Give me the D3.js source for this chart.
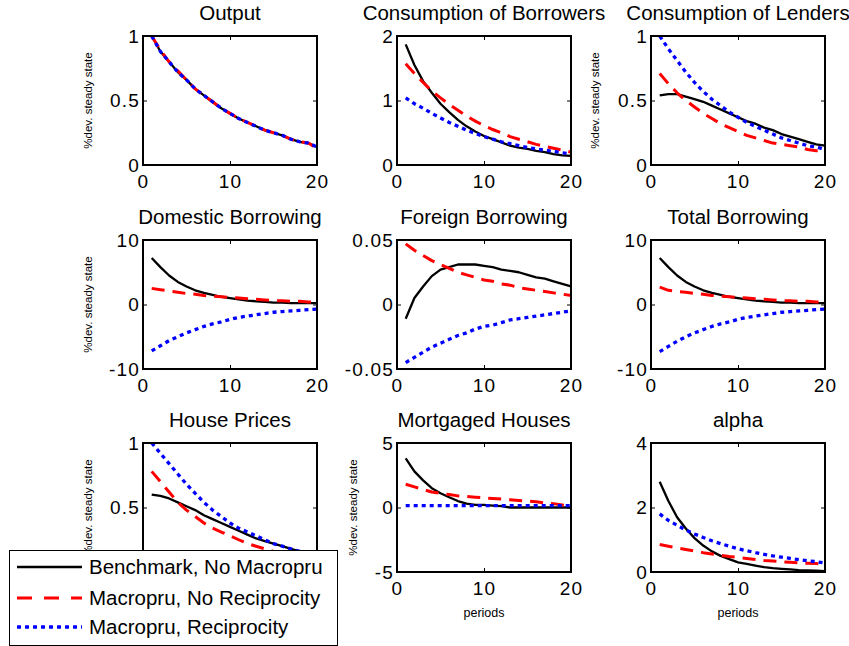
<!DOCTYPE html>
<html><head><meta charset="utf-8">
<script src="https://cdn.jsdelivr.net/npm/d3@7"></script>
<style>
body{margin:0;background:#fff;}
svg{display:block;font-family:"Liberation Sans",Arial,sans-serif;}
</style></head>
<body>
<svg id="chart" width="849" height="646"></svg>
<script>
// ---------- DATA ----------
const periods = [1,2,3,4,5,6,7,8,9,10,11,12,13,14,15,16,17,18,19,20];
const seriesNames = ["Benchmark, No Macropru","Macropru, No Reciprocity","Macropru, Reciprocity"];
const titles = ["Output","Consumption of Borrowers","Consumption of Lenders",
  "Domestic Borrowing","Foreign Borrowing","Total Borrowing",
  "House Prices","Mortgaged Houses","alpha"];
const xTicks = [0,10,20];
const yTicks = [[0,0.5,1],[0,1,2],[0,0.5,1],[-10,0,10],[-0.05,0,0.05],[-10,0,10],[0,0.5,1],[-5,0,5],[0,2,4]];
const yTickLabels = [["0","0.5","1"],["0","1","2"],["0","0.5","1"],["-10","0","10"],["-0.05","0","0.05"],["-10","0","10"],["0","0.5","1"],["-5","0","5"],["0","2","4"]];
const hasYLabel = [true,false,true,true,false,false,true,true,false];
const hasXLabel = [false,false,false,false,false,false,true,true,true];

// each: [benchmark, macropru no reciprocity, macropru reciprocity]
const outputVals = [
  [1.00,0.88,0.80,0.72,0.66,0.59,0.54,0.49,0.44,0.40,0.36,0.33,0.30,0.27,0.25,0.23,0.20,0.18,0.17,0.14],
  [1.00,0.89,0.80,0.73,0.66,0.59,0.54,0.49,0.44,0.40,0.36,0.33,0.30,0.27,0.25,0.23,0.20,0.18,0.17,0.13],
  [1.00,0.88,0.80,0.72,0.66,0.59,0.54,0.49,0.44,0.40,0.36,0.33,0.30,0.27,0.25,0.23,0.20,0.18,0.17,0.14]];
const consBorrowersVals = [
  [1.87,1.55,1.30,1.12,0.95,0.82,0.70,0.60,0.52,0.45,0.40,0.35,0.30,0.27,0.25,0.22,0.20,0.17,0.15,0.14],
  [1.57,1.42,1.28,1.15,1.04,0.94,0.85,0.76,0.68,0.61,0.55,0.50,0.44,0.40,0.36,0.32,0.29,0.26,0.23,0.20],
  [1.04,0.95,0.88,0.80,0.73,0.66,0.60,0.54,0.49,0.44,0.40,0.36,0.33,0.30,0.27,0.25,0.23,0.21,0.19,0.17]];
const consLendersVals = [
  [0.54,0.55,0.55,0.53,0.51,0.49,0.46,0.43,0.40,0.37,0.34,0.32,0.29,0.27,0.24,0.22,0.20,0.18,0.16,0.15],
  [0.71,0.63,0.56,0.50,0.45,0.40,0.36,0.32,0.29,0.26,0.23,0.21,0.19,0.17,0.16,0.15,0.14,0.12,0.11,0.11],
  [1.00,0.90,0.81,0.72,0.64,0.57,0.51,0.46,0.41,0.37,0.33,0.30,0.27,0.24,0.21,0.19,0.17,0.15,0.14,0.12]];
const domBorrowingVals = [
  [7.2,5.8,4.5,3.5,2.8,2.2,1.8,1.5,1.2,1.0,0.8,0.6,0.5,0.4,0.3,0.3,0.2,0.2,0.2,0.2],
  [2.5,2.3,2.1,1.9,1.7,1.6,1.4,1.3,1.2,1.1,1.0,0.9,0.8,0.7,0.6,0.6,0.5,0.5,0.4,0.4],
  [-7.2,-6.4,-5.6,-5.0,-4.4,-3.9,-3.4,-3.0,-2.7,-2.3,-2.0,-1.8,-1.6,-1.4,-1.2,-1.1,-1.0,-0.9,-0.8,-0.7]];
const forBorrowingVals = [
  [-0.011,0.005,0.014,0.022,0.027,0.029,0.031,0.031,0.031,0.030,0.029,0.027,0.026,0.025,0.023,0.021,0.020,0.018,0.016,0.014],
  [0.047,0.042,0.038,0.034,0.031,0.028,0.025,0.023,0.021,0.019,0.018,0.016,0.015,0.013,0.012,0.011,0.010,0.009,0.008,0.007],
  [-0.045,-0.041,-0.037,-0.033,-0.030,-0.027,-0.024,-0.022,-0.019,-0.017,-0.016,-0.014,-0.012,-0.011,-0.010,-0.009,-0.008,-0.007,-0.006,-0.005]];
const totBorrowingVals = [
  [7.2,5.8,4.5,3.5,2.8,2.2,1.8,1.5,1.2,1.0,0.8,0.6,0.5,0.4,0.3,0.3,0.2,0.2,0.2,0.2],
  [2.7,2.2,2.0,1.9,1.7,1.6,1.4,1.3,1.2,1.1,1.0,0.9,0.8,0.7,0.6,0.6,0.5,0.5,0.4,0.4],
  [-7.3,-6.5,-5.7,-5.0,-4.4,-3.9,-3.4,-3.0,-2.7,-2.3,-2.0,-1.8,-1.6,-1.4,-1.2,-1.1,-1.0,-0.9,-0.8,-0.7]];
const housePricesVals = [
  [0.60,0.59,0.57,0.54,0.51,0.48,0.44,0.41,0.38,0.35,0.32,0.29,0.26,0.24,0.22,0.20,0.18,0.16,0.14,0.12],
  [0.78,0.70,0.62,0.54,0.48,0.43,0.38,0.34,0.31,0.28,0.25,0.22,0.20,0.18,0.16,0.15,0.13,0.12,0.11,0.10],
  [1.00,0.92,0.84,0.76,0.68,0.61,0.54,0.48,0.43,0.38,0.34,0.31,0.28,0.25,0.22,0.20,0.18,0.16,0.14,0.12]];
const mortgagedVals = [
  [3.8,2.8,2.1,1.5,1.1,0.8,0.5,0.3,0.2,0.2,0.15,0.1,0.0,0.0,0.0,0.0,0.0,0.0,0.0,0.0],
  [1.8,1.6,1.4,1.2,1.1,1.0,0.9,0.85,0.8,0.75,0.7,0.65,0.6,0.55,0.5,0.45,0.35,0.3,0.2,0.1],
  [0.15,0.15,0.15,0.15,0.15,0.15,0.15,0.15,0.15,0.15,0.15,0.15,0.15,0.15,0.15,0.15,0.15,0.15,0.15,0.15]];
const alphaVals = [
  [2.8,2.2,1.7,1.35,1.05,0.82,0.64,0.50,0.40,0.30,0.25,0.20,0.15,0.12,0.10,0.08,0.06,0.05,0.04,0.03],
  [0.85,0.80,0.75,0.70,0.65,0.60,0.56,0.52,0.48,0.45,0.42,0.39,0.36,0.34,0.32,0.30,0.28,0.27,0.26,0.25],
  [1.80,1.60,1.45,1.30,1.18,1.07,0.97,0.88,0.80,0.72,0.66,0.60,0.55,0.50,0.46,0.42,0.38,0.35,0.32,0.28]];
const panelValues = [outputVals,consBorrowersVals,consLendersVals,domBorrowingVals,forBorrowingVals,totBorrowingVals,housePricesVals,mortgagedVals,alphaVals];

// ---------- STYLE / LAYOUT ----------
const colors = ["#000000","#ff0000","#0000ff"];
const dashes = [null,"13,8","4,4"];
const widths = [2.3,3,3.3];
const colLeft = [143,397,651], rowTop = [36,240,443];
const W = 174, H = 129;
const yLabelOffset = [55,55,56,55,55,55,55,44,55];
const legendBox = {x:9.5, y:550.5, w:328, h:95};

const svg = d3.select("#chart");
const defs = svg.append("defs");
defs.append("clipPath").attr("id","aboveLegend")
  .append("rect").attr("x",0).attr("y",0).attr("width",849).attr("height",legendBox.y);

panelValues.forEach((vals, i) => {
  const c = i % 3, r = Math.floor(i / 3);
  const ox = colLeft[c], oy = rowTop[r];
  const g = svg.append("g").attr("transform", `translate(${ox},${oy})`);
  const x = d3.scaleLinear().domain([0,20]).range([0,W]);
  const ty = yTicks[i];
  const y = d3.scaleLinear().domain([ty[0], ty[ty.length-1]]).range([H,0]);

  const line = d3.line().x((d,k) => x(periods[k])).y(d => y(d));
  vals.forEach((s, k) => {
    g.append("path").datum(s).attr("d", line)
      .attr("fill","none").attr("stroke",colors[k]).attr("stroke-width",widths[k])
      .attr("stroke-dasharray",dashes[k]).attr("stroke-linejoin","round");
  });

  const fmtY = v => yTickLabels[i][ty.indexOf(v)];
  const axL = g.append("g").call(d3.axisLeft(y).tickValues(ty).tickSize(-4).tickPadding(3).tickFormat(fmtY));
  const axR = g.append("g").attr("transform",`translate(${W},0)`).call(d3.axisRight(y).tickValues(ty).tickSize(-4).tickFormat(""));
  const axB = g.append("g").attr("transform",`translate(0,${H})`).call(d3.axisBottom(x).tickValues(xTicks).tickSize(-4).tickPadding(10).tickFormat(d3.format("d")));
  const axT = g.append("g").call(d3.axisTop(x).tickValues(xTicks).tickSize(-4).tickFormat(""));
  [axL,axR,axB,axT].forEach(a => {
    a.select(".domain").remove();
    a.selectAll("line").attr("stroke","#000").attr("stroke-width",1);
    a.selectAll("text").attr("font-size",19).attr("fill","#000").attr("letter-spacing","1.2px")
      .attr("font-family","Liberation Sans, Arial, sans-serif");
  });
  axB.selectAll("text").attr("dy","0.71em");
  // remove tick labels hidden behind the legend box
  [axL,axB].forEach(a => a.selectAll(".tick").each(function(){
    const bb = this.getBBox(); const ctm = this.getCTM();
    const ay = ctm.f + bb.y + bb.height/2, ax = ctm.e + bb.x + bb.width/2;
    if (ay > legendBox.y && ax < legendBox.x + legendBox.w) d3.select(this).select("text").remove();
  }));
  g.append("rect").attr("width",W).attr("height",H).attr("fill","none").attr("stroke","#000").attr("stroke-width",2);

  g.append("text").attr("x",W/2).attr("y",-16).attr("text-anchor","middle")
    .attr("font-size",20.5).text(titles[i]);
  if (hasYLabel[i]) {
    const yl = svg.append("g");
    if (oy + H/2 + 50 > legendBox.y && ox - yLabelOffset[i] < legendBox.x + legendBox.w) yl.attr("clip-path","url(#aboveLegend)");
    yl.append("text").attr("transform",`translate(${ox - yLabelOffset[i]},${oy + H/2}) rotate(-90)`)
      .attr("text-anchor","middle").attr("dy","0.35em").attr("font-size",11.5).text("%dev. steady state");
  }
  if (hasXLabel[i] && !(oy + H + 45 > legendBox.y && ox < legendBox.x + legendBox.w)) {
    g.append("text").attr("x",W/2).attr("y",H+45).attr("text-anchor","middle")
      .attr("font-size",12.5).text("periods");
  }
});

// legend
const lg = svg.append("g");
lg.append("rect").attr("x",legendBox.x).attr("y",legendBox.y).attr("width",legendBox.w).attr("height",legendBox.h)
  .attr("fill","#fff").attr("stroke","#000").attr("stroke-width",1);
const legY = [567,598,627];
seriesNames.forEach((n,k) => {
  lg.append("line").attr("x1",17).attr("x2",82).attr("y1",legY[k]).attr("y2",legY[k])
    .attr("stroke",colors[k]).attr("stroke-width",widths[k]).attr("stroke-dasharray",k===1?"15,12":dashes[k]);
  lg.append("text").attr("x",89).attr("y",legY[k]).attr("dy","0.35em").attr("font-size",20.5).text(n);
});
</script>
</body></html>
